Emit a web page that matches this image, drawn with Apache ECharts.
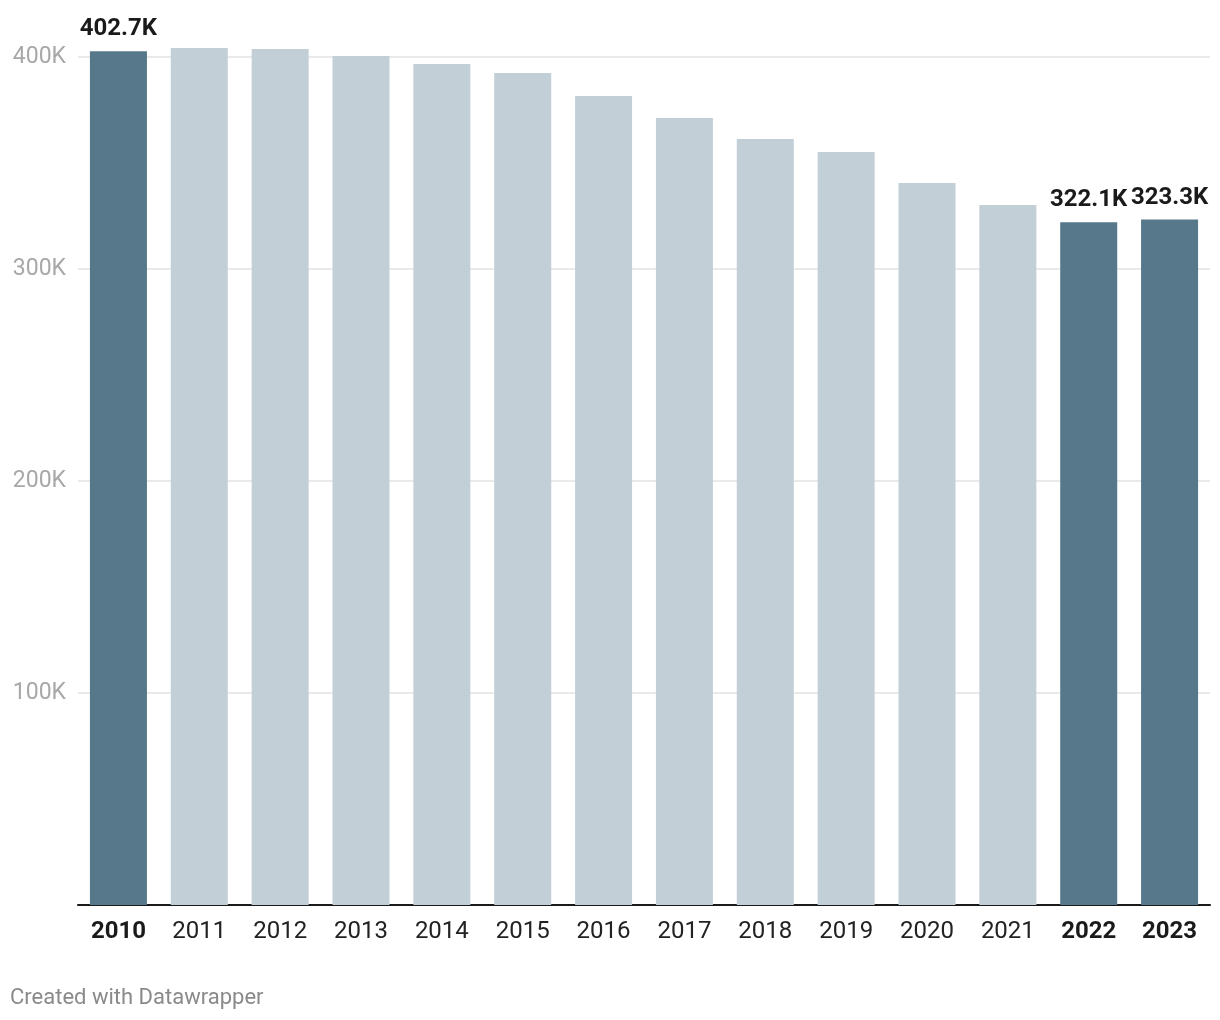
<!DOCTYPE html>
<html>
<head>
<meta charset="utf-8">
<script src="https://cdn.jsdelivr.net/npm/echarts@6/dist/echarts.min.js"></script>
<style>
html,body{margin:0;padding:0;background:#fff;}
#chart{width:1220px;height:1020px;}
</style>
</head>
<body>
<div id="chart"></div>
<script>
const categories = ['2010','2011','2012','2013','2014','2015','2016','2017','2018','2019','2020','2021','2022','2023'];
const values = [402700, 404200, 403800, 400500, 396700, 392500, 381600, 371200, 361300, 355200, 340600, 330200, 322100, 323300];
const highlighted = ['2010','2022','2023'];
const yTicks = [0, 100000, 200000, 300000, 400000];

const DARK = '#56788a', LIGHT = '#c3cfd7';
const chart = echarts.init(document.getElementById('chart'));
const data = values.map((v, i) => {
  const hi = highlighted.includes(categories[i]);
  return {
    value: v,
    itemStyle: { color: hi ? DARK : LIGHT },
    label: { show: hi }
  };
});
chart.setOption({
  animation: false,
  backgroundColor: '#fff',
  textStyle: { fontFamily: 'Roboto' },
  grid: { left: 78, right: 10, top: 57, bottom: 115, containLabel: false },
  xAxis: {
    type: 'category',
    data: categories,
    axisLine: { lineStyle: { color: '#1a1a1a', width: 2 } },
    axisTick: { show: false },
    axisLabel: {
      interval: 0,
      margin: 15,
      fontSize: 24,
      color: '#222',
      fontFamily: 'Roboto',
      formatter: v => highlighted.includes(v) ? '{b|' + v + '}' : v,
      rich: { b: { fontWeight: 'bold', fontSize: 24, color: '#1a1a1a', fontFamily: 'Roboto' } }
    }
  },
  yAxis: {
    type: 'value',
    min: yTicks[0],
    max: yTicks[yTicks.length - 1],
    interval: 100000,
    axisLine: { show: false },
    axisTick: { show: false },
    splitLine: { lineStyle: { color: '#e3e3e3', width: 1.5 } },
    axisLabel: {
      margin: 12,
      fontSize: 23,
      color: '#a8a8a8',
      fontFamily: 'Roboto',
      padding: [3, 0, 0, 0],
      formatter: v => v === 0 ? '' : (v / 1000) + 'K'
    }
  },
  series: [{
    type: 'bar',
    data: data,
    barWidth: 57,
    clip: false,
    label: {
      position: 'top',
      distance: 10,
      fontSize: 24,
      fontWeight: 'bold',
      color: '#1a1a1a',
      fontFamily: 'Roboto',
      formatter: p => (p.value / 1000).toFixed(1) + 'K'
    }
  }],
  graphic: [{
    type: 'text',
    left: 10,
    top: 987,
    style: { text: 'Created with Datawrapper', fontSize: 22, fill: '#8a8a8a', fontFamily: 'Roboto' }
  }]
});
</script>
</body>
</html>
